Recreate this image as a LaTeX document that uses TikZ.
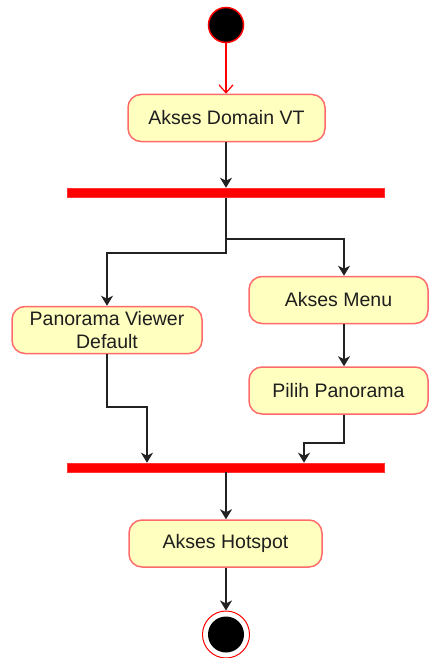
\documentclass[tikz,border=0pt]{standalone}
\usepackage{fontspec}
\setmainfont{Liberation Sans}
\usetikzlibrary{arrows.meta}
\definecolor{boxfill}{HTML}{FFFFC0}
\definecolor{boxline}{HTML}{FF6B6B}
\definecolor{txt}{HTML}{1E1E1E}
\definecolor{lin}{HTML}{222222}
\tikzset{
  act/.style={draw=boxline, line width=1.5pt, fill=boxfill, rounded corners=13pt,
    minimum height=47pt, inner sep=0pt, align=center, font=\fontsize{19.5pt}{23pt}\selectfont, text=txt},
  bar/.style={fill=red, draw=red!80!white, line width=0.5pt, minimum height=9pt, inner sep=0pt},
  flow/.style={draw=lin, line width=1.5pt, -{Stealth[length=10pt,width=12pt,inset=3pt]}},
}
\begin{document}
\begin{tikzpicture}[x=1pt,y=-1pt]
\useasboundingbox (0,0) rectangle (429,658);
% start
\node[circle, fill=black, draw=red, line width=1.5pt, minimum size=35pt, inner sep=0pt] (start) at (226,25) {};
\node[act, minimum width=197pt] (domain) at (226.5,118) {Akses Domain VT};
\node[bar, minimum width=317pt] (fork) at (225.5,192.5) {};
\node[act, minimum width=190pt] (pano) at (107,330) {Panorama Viewer\\Default};
\node[act, minimum width=179pt] (menu) at (338.5,300) {Akses Menu};
\node[act, minimum width=179pt] (pilih) at (338.5,390.5) {Pilih Panorama};
\node[bar, minimum width=317pt] (join) at (225.5,467.5) {};
\node[act, minimum width=193pt] (hot) at (225.5,543.5) {Akses Hotspot};
\node[circle, draw=red, line width=1pt, fill=white, minimum size=47pt, inner sep=0pt] (end) at (226,634.5) {};
\node[circle, fill=black, minimum size=36pt, inner sep=0pt] at (end.center) {};
% coordinates
\coordinate (fo) at (226,198);
\coordinate (mx) at (344,0);
\coordinate (jl) at (147,0);
\coordinate (jr) at (304,0);
% connectors
\draw[draw=red, line width=1.2pt, -{Straight Barb[length=8pt,width=14pt]}] (start) -- (domain.north -| start);
\draw[flow] (domain.south -| fo) -- (fork.north -| fo);
\draw[flow] (fo) |- (mx |- 0,239) -- (menu.north -| mx);
\draw[flow] (fo) |- (pano.north |- 0,253) -- (pano.north);
\draw[flow] (menu.south -| mx) -- (pilih.north -| mx);
\draw[flow] (pano.south) |- (jl |- 0,407) -- (join.north -| jl);
\draw[flow] (pilih.south -| mx) |- (jr |- 0,443) -- (join.north -| jr);
\draw[flow] (join.south -| fo) -- (hot.north -| fo);
\draw[flow] (hot.south -| fo) -- (end.north);
\end{tikzpicture}
\end{document}
